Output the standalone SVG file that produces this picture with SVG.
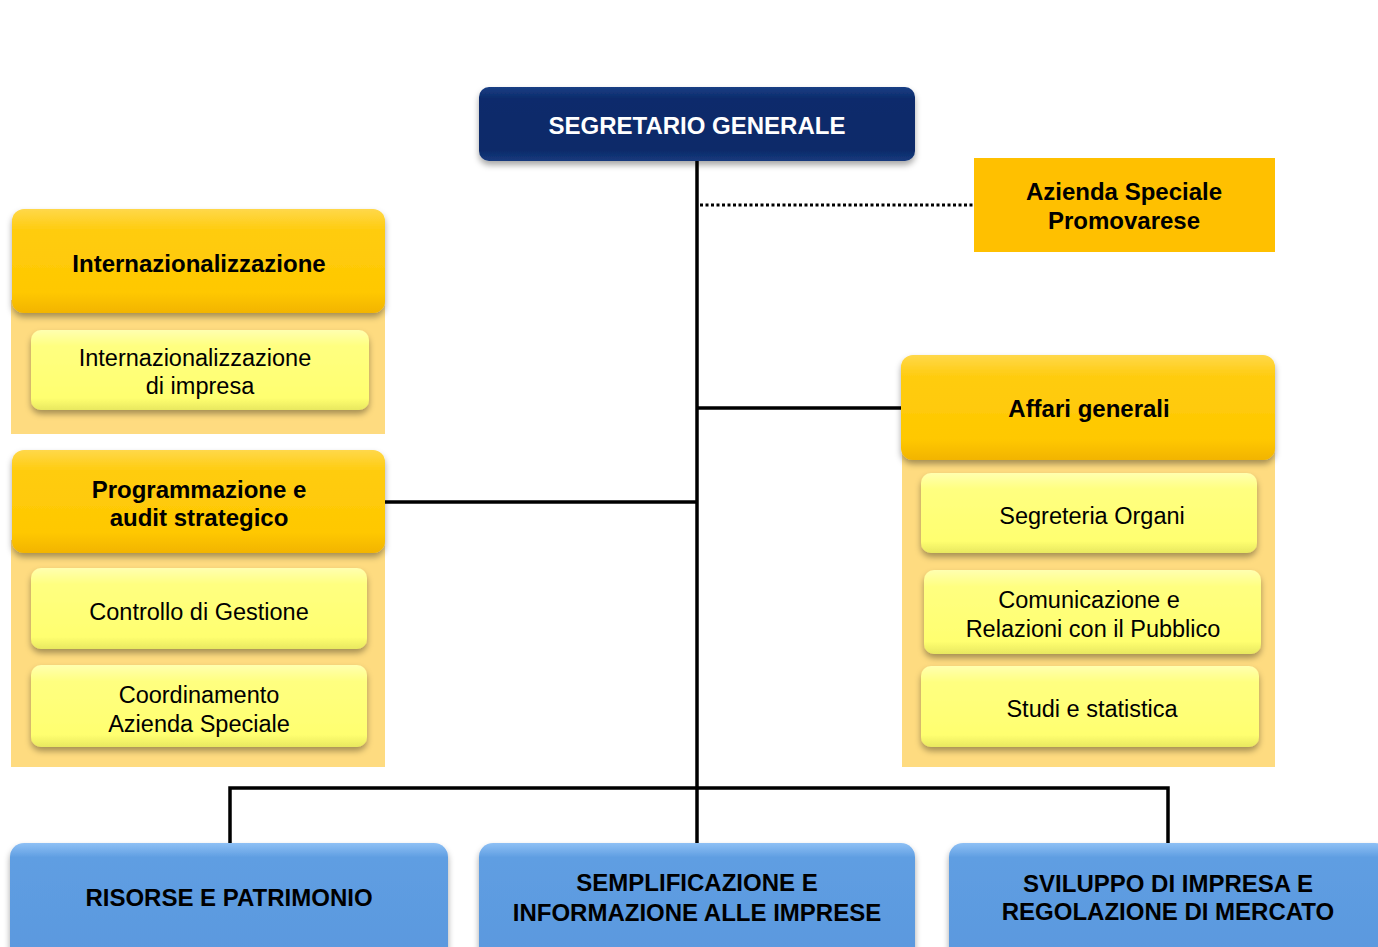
<svg xmlns="http://www.w3.org/2000/svg" width="1378" height="947" viewBox="0 0 1378 947">
<defs>
<linearGradient id="gNavy" x1="0" y1="0" x2="0" y2="1"><stop offset="0" stop-color="#1a3f85"/><stop offset="0.15" stop-color="#0c2c6c"/><stop offset="0.85" stop-color="#0b2a69"/><stop offset="1" stop-color="#163a7d"/></linearGradient>
<linearGradient id="gHead" x1="0" y1="0" x2="0" y2="1"><stop offset="0" stop-color="#ffd84a"/><stop offset="0.2" stop-color="#ffcc10"/><stop offset="0.8" stop-color="#ffc800"/><stop offset="1" stop-color="#f2b400"/></linearGradient>
<linearGradient id="gSub" x1="0" y1="0" x2="0" y2="1"><stop offset="0" stop-color="#ffffb0"/><stop offset="0.2" stop-color="#ffff80"/><stop offset="0.85" stop-color="#ffff70"/><stop offset="1" stop-color="#e8e860"/></linearGradient>
<linearGradient id="gBlue" x1="0" y1="0" x2="0" y2="1"><stop offset="0" stop-color="#8ec0f5"/><stop offset="0.12" stop-color="#5f9ee2"/><stop offset="1" stop-color="#5a98de"/></linearGradient>
<filter id="sh" x="-10%" y="-20%" width="120%" height="150%"><feDropShadow dx="0" dy="4" stdDeviation="3" flood-color="#000" flood-opacity="0.35"/></filter>
</defs>
<style>
.bg{fill:#fedb80}
.head{fill:url(#gHead);filter:url(#sh)}
.sub{fill:url(#gSub);filter:url(#sh)}
.blue{fill:url(#gBlue);filter:url(#sh)}
.navy{fill:url(#gNavy);filter:url(#sh)}
.tb{font-family:"Liberation Sans",Arial,sans-serif;font-weight:bold;font-size:24px;text-anchor:middle;fill:#000}
.tn{font-family:"Liberation Sans",Arial,sans-serif;font-size:23.5px;text-anchor:middle;fill:#000}
.tw{font-family:"Liberation Sans",Arial,sans-serif;font-weight:bold;font-size:24px;text-anchor:middle;fill:#fff}
.ln{stroke:#000;stroke-width:3.5;fill:none}
.dot{stroke:#000;stroke-width:3;stroke-dasharray:3 2.5;fill:none}
</style>
<g id="connectors">
<line class="ln" x1="697" y1="160" x2="697" y2="845"/>
<line class="dot" x1="700" y1="205" x2="974" y2="205"/>
<line class="ln" x1="697" y1="408" x2="902" y2="408"/>
<line class="ln" x1="385" y1="502" x2="697" y2="502"/>
<polyline class="ln" points="230,845 230,788 1168,788 1168,845"/>
</g>
<g id="segretario">
<rect class="navy" x="479" y="87" width="436" height="74" rx="10"/>
<text class="tw" x="697" y="134">SEGRETARIO GENERALE</text>
</g>
<g id="azienda">
<rect x="974" y="158" width="301" height="94" fill="#ffc000"/>
<text class="tb" x="1124" y="200">Azienda Speciale</text>
<text class="tb" x="1124" y="229">Promovarese</text>
</g>
<g id="internaz">
<rect class="bg" x="11" y="300" width="374" height="134"/>
<rect class="head" x="12" y="209" width="373" height="104" rx="12"/>
<text class="tb" x="199" y="272">Internazionalizzazione</text>
</g>
<g id="internaz-impresa">
<rect class="sub" x="31" y="330" width="338" height="80" rx="10"/>
<text class="tn" x="195" y="366">Internazionalizzazione</text>
<text class="tn" x="200" y="394">di impresa</text>
</g>
<g id="programmazione">
<rect class="bg" x="11" y="540" width="374" height="227"/>
<rect class="head" x="12" y="450" width="373" height="103" rx="12"/>
<text class="tb" x="199" y="498">Programmazione e</text>
<text class="tb" x="199" y="526">audit strategico</text>
</g>
<g id="controllo">
<rect class="sub" x="31" y="568" width="336" height="81" rx="10"/>
<text class="tn" x="199" y="620">Controllo di Gestione</text>
</g>
<g id="coordinamento">
<rect class="sub" x="31" y="665" width="336" height="82" rx="10"/>
<text class="tn" x="199" y="703">Coordinamento</text>
<text class="tn" x="199" y="732">Azienda Speciale</text>
</g>
<g id="affari">
<rect class="bg" x="902" y="445" width="373" height="322"/>
<rect class="head" x="901" y="355" width="374" height="105" rx="12"/>
<text class="tb" x="1089" y="417">Affari generali</text>
</g>
<g id="segreteria">
<rect class="sub" x="921" y="473" width="336" height="80" rx="10"/>
<text class="tn" x="1092" y="524">Segreteria Organi</text>
</g>
<g id="comunicazione">
<rect class="sub" x="924" y="570" width="337" height="84" rx="10"/>
<text class="tn" x="1089" y="608">Comunicazione e</text>
<text class="tn" x="1093" y="637">Relazioni con il Pubblico</text>
</g>
<g id="studi">
<rect class="sub" x="921" y="666" width="338" height="81" rx="10"/>
<text class="tn" x="1092" y="717">Studi e statistica</text>
</g>
<g id="risorse">
<rect class="blue" x="10" y="843" width="438" height="120" rx="14"/>
<text class="tb" x="229" y="906">RISORSE E PATRIMONIO</text>
</g>
<g id="semplificazione">
<rect class="blue" x="479" y="843" width="436" height="120" rx="14"/>
<text class="tb" x="697" y="891">SEMPLIFICAZIONE E</text>
<text class="tb" x="697" y="921">INFORMAZIONE ALLE IMPRESE</text>
</g>
<g id="sviluppo">
<rect class="blue" x="949" y="843" width="440" height="120" rx="14"/>
<text class="tb" x="1168" y="892">SVILUPPO DI IMPRESA E</text>
<text class="tb" x="1168" y="920">REGOLAZIONE DI MERCATO</text>
</g>
</svg>
